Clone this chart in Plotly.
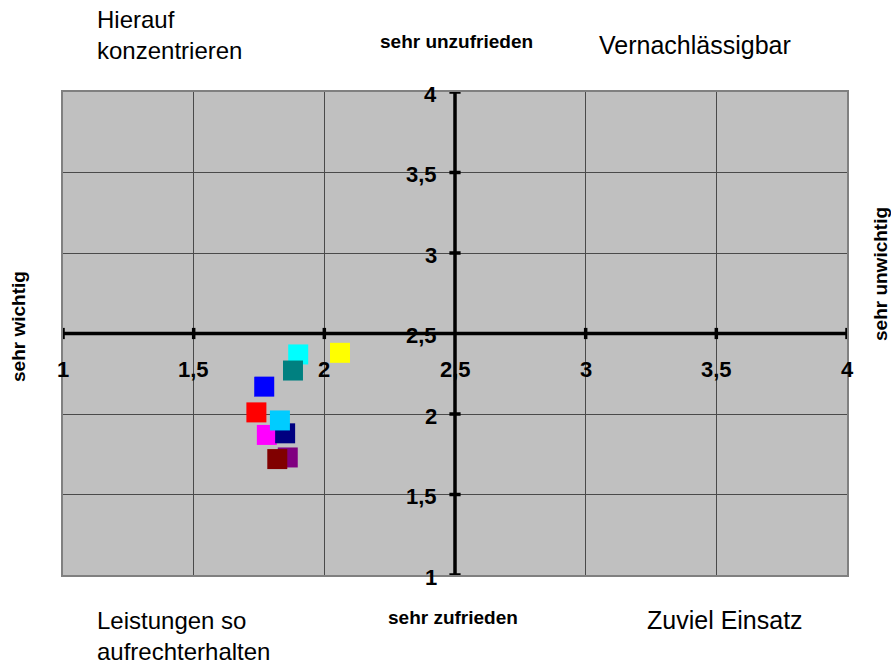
import plotly.graph_objects as go

# data
series_names = ["S1", "S2", "S3", "S4", "S5", "S6", "S7", "S8", "S9", "S10"]
x_vals = [1.90, 2.06, 1.88, 1.77, 1.74, 1.78, 1.85, 1.83, 1.86, 1.82]
y_vals = [2.37, 2.38, 2.27, 2.17, 2.01, 1.87, 1.88, 1.96, 1.73, 1.72]
colors = ["#00FFFF", "#FFFF00", "#008080", "#0000FF", "#FF0000", "#FF00FF",
          "#000080", "#00CCFF", "#800080", "#800000"]
tick_vals = [1, 1.5, 2, 2.5, 3, 3.5, 4]
tick_text = ["1", "1,5", "2", "2,5", "3", "3,5", "4"]
cross = 2.5

FONT = "Arial, Liberation Sans, sans-serif"

fig = go.Figure()

for n, xv, yv, c in zip(series_names, x_vals, y_vals, colors):
    fig.add_trace(go.Scatter(x=[xv], y=[yv], mode="markers", name=n,
                             marker=dict(symbol="square", size=20, color=c,
                                         line=dict(width=0)),
                             showlegend=False, hoverinfo="x+y"))

# crossing axes
fig.add_shape(type="line", xref="x", yref="y", x0=1, x1=4, y0=cross, y1=cross,
              line=dict(color="black", width=3.5), layer="above")
fig.add_shape(type="line", xref="x", yref="y", x0=cross, x1=cross, y0=1, y1=4,
              line=dict(color="black", width=3.5), layer="above")

# tick marks
xt = [v for v in tick_vals if v != cross]
fig.add_trace(go.Scatter(x=xt, y=[cross] * len(xt), mode="markers",
                         marker=dict(symbol="line-ns-open", size=8, color="black",
                                     line=dict(color="black", width=3.5)),
                         showlegend=False, hoverinfo="skip", cliponaxis=False))
fig.add_trace(go.Scatter(x=[cross] * len(xt), y=xt, mode="markers",
                         marker=dict(symbol="line-ew-open", size=8, color="black",
                                     line=dict(color="black", width=3.5)),
                         showlegend=False, hoverinfo="skip", cliponaxis=False))

ax = dict(range=[1, 4], tickvals=tick_vals, showticklabels=False,
          showgrid=True, gridcolor="#4a4a4a", gridwidth=1, zeroline=False,
          showline=True, linecolor="#808080", linewidth=2, mirror=True, ticks="")

fig.update_layout(
    width=891, height=664,
    margin=dict(l=63, r=44, t=92, b=89),
    plot_bgcolor="#C0C0C0", paper_bgcolor="white",
    xaxis=ax, yaxis=ax,
    font=dict(family=FONT, color="black"),
    separators=", ",
)

# tick labels at the crossing axes
for v, t in zip(tick_vals, tick_text):
    fig.add_annotation(text=f"<b>{t}</b>", x=v, y=cross, xref="x", yref="y",
                       showarrow=False, xanchor="center", yanchor="middle", yshift=-36,
                       font=dict(family=FONT, size=22, color="black"))
    fig.add_annotation(text=f"<b>{t}</b>", x=cross, y=v, xref="x", yref="y",
                       showarrow=False, xanchor="right", yanchor="middle",
                       xshift=-16, yshift=-2,
                       font=dict(family=FONT, size=22, color="black"))

def note(text, x, y, size, bold=False, angle=0, xanchor="left", align="left"):
    t = f"<b>{text}</b>" if bold else text
    fig.add_annotation(text=t, x=x, y=y, xref="paper", yref="paper", showarrow=False,
                       font=dict(family=FONT, size=size, color="black"),
                       xanchor=xanchor, yanchor="middle", textangle=angle, align=align)

# paper coords: plot area x 63..847 (784), y 92..575 (483) in px
def px(xp):
    return (xp - 63) / 784
def py(yp):
    return (575 - yp) / 483

note("Hierauf<br>konzentrieren", px(95), py(35), 24)
note("sehr unzufrieden", px(456), py(42), 19, bold=True, xanchor="center")
note("Vernachlässigbar", px(597), py(45), 25)
note("sehr wichtig", px(18), py(327), 19, bold=True, angle=-90, xanchor="center")
note("sehr unwichtig", px(880), py(274), 19, bold=True, angle=-90, xanchor="center")
note("Leistungen so<br>aufrechterhalten", px(95), py(636), 24)
note("sehr zufrieden", px(453), py(617), 19, bold=True, xanchor="center")
note("Zuviel Einsatz", px(645), py(620), 25)

fig.write_html("out.html", config={"displayModeBar": False},
               post_script="document.body.style.margin='0';")
